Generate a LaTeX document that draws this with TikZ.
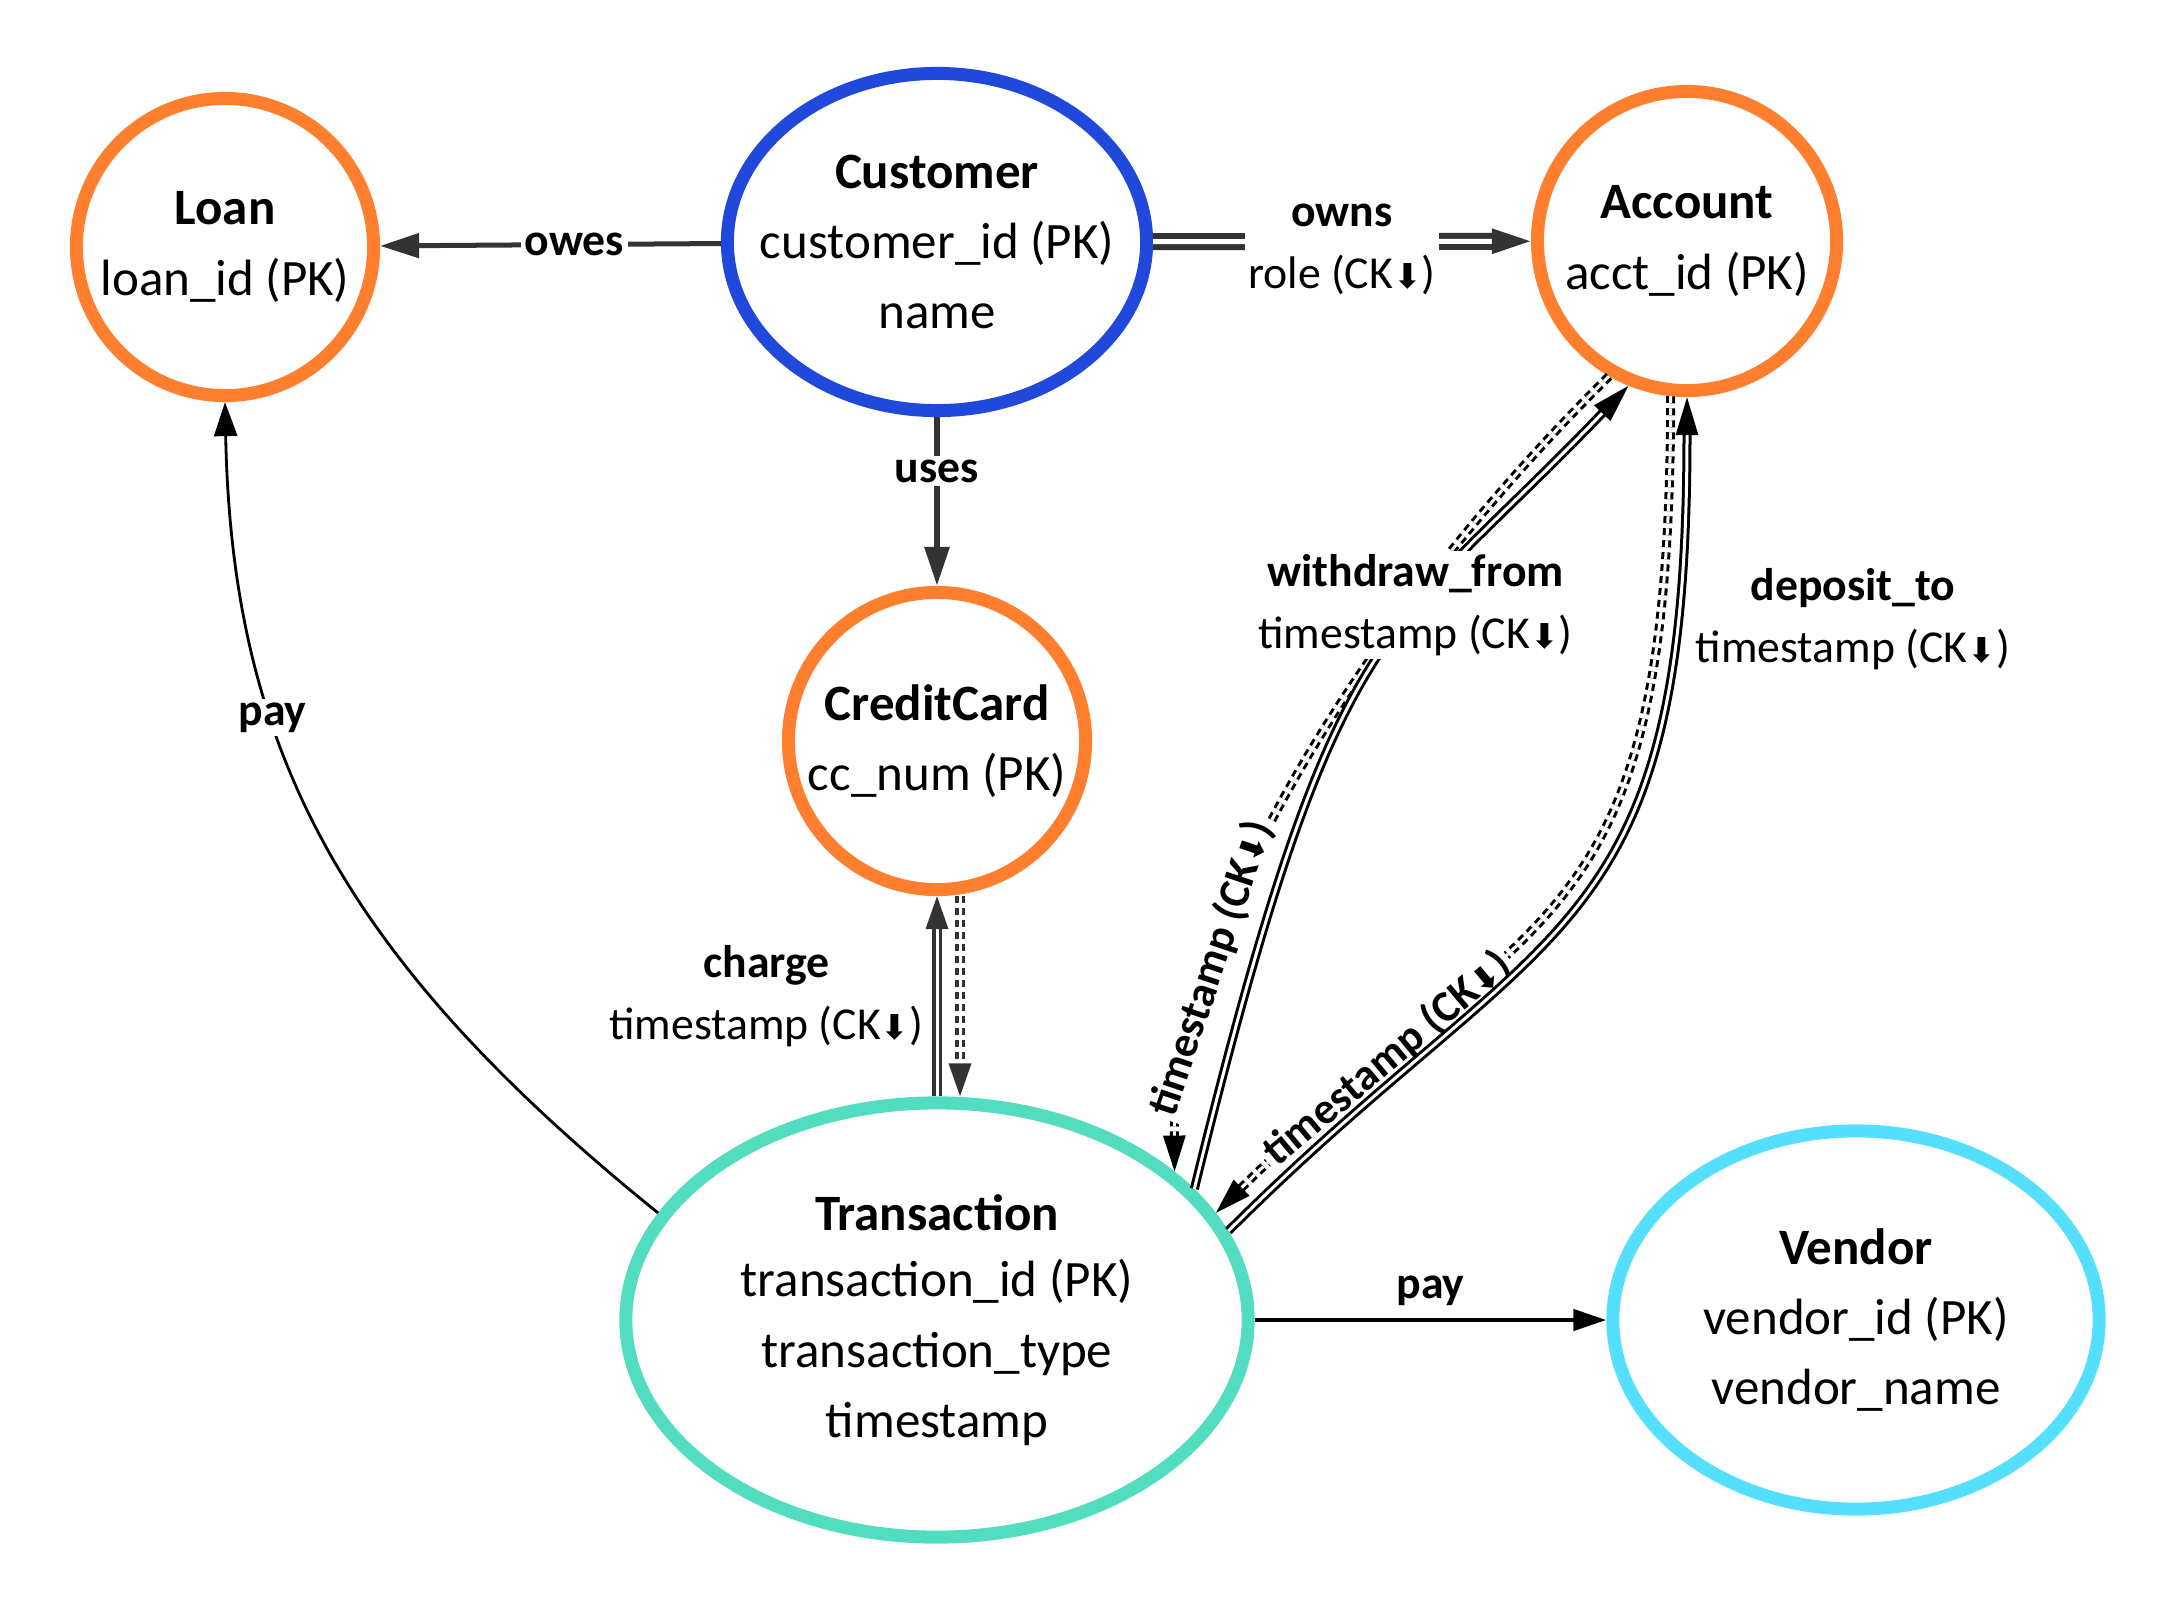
\documentclass[tikz,border=0pt]{standalone}
\usepackage{fontspec}
\setmainfont{Carlito}
\newfontfamily\arrowfont{DejaVu Sans}
\usetikzlibrary{arrows.meta,shapes.geometric}

\definecolor{acctorange}{HTML}{FF7F2F}
\definecolor{custblue}{HTML}{2049DB}
\definecolor{transteal}{HTML}{53DDC0}
\definecolor{vendcyan}{HTML}{55DFFF}
\definecolor{linegray}{HTML}{333333}

\newcommand{\ckd}{CK{\arrowfont\scalebox{0.75}{⬇}}}

\begin{document}
\begin{tikzpicture}[x=0.01cm, y=-0.01cm]

  \tikzstyle{entity} = [ellipse, draw, line width=0.13cm, inner sep=-1cm, align=center, font=\fontsize{14.5}{20}\selectfont]
  \tikzstyle{elabel} = [fill=white, text=black, inner sep=1pt, align=center, font=\fontsize{13}{17.5}\selectfont]
  \tikzstyle{plabel} = [text=black, align=center, font=\fontsize{13}{17.5}\selectfont]
  \tikzstyle{slabel} = [fill=white, text=black, inner sep=1pt, sloped, font=\bfseries\fontsize{12.5}{15}\selectfont]
  \tikzstyle{dashrel} = [dash pattern=on 0.07cm off 0.05cm]

  \useasboundingbox (0,0) rectangle (2175,1614);

  \node[entity, draw=acctorange, minimum width=2.97cm, minimum height=2.97cm] (loan) at (225,247) {\textbf{Loan}\\loan\_id (PK)};
  \node[entity, draw=custblue, minimum width=4.19cm, minimum height=3.37cm] (customer) at (937,242) {\textbf{Customer}\\customer\_id (PK)\\name};
  \node[entity, draw=acctorange, minimum width=2.99cm, minimum height=2.99cm] (account) at (1687,241) {\textbf{Account}\\acct\_id (PK)};
  \node[entity, draw=acctorange, minimum width=2.97cm, minimum height=2.97cm] (cc) at (937,741) {\textbf{CreditCard}\\cc\_num (PK)};
  \node[entity, draw=transteal, minimum width=6.22cm, minimum height=4.34cm] (transaction) at (937,1320) {\textbf{Transaction}\\[-1pt]transaction\_id (PK)\\transaction\_type\\timestamp};
  \node[entity, draw=vendcyan, minimum width=4.86cm, minimum height=3.78cm] (vendor) at (1856,1320) {\textbf{Vendor}\\vendor\_id (PK)\\vendor\_name};

  \draw[linegray, line width=0.05cm, -{Triangle[length=0.39cm,width=0.24cm]}] (customer) -- node[elabel, pos=0.43] {\textbf{owes}} (loan);
  \draw[linegray, line width=0.06cm, double, double distance=0.05cm, -{Triangle[length=0.39cm,width=0.24cm]}] (customer) -- node[elabel, yshift=-0.08cm] {\textbf{owns}\\role (\ckd)} (account);
  \draw[linegray, line width=0.06cm, -{Triangle[length=0.39cm,width=0.24cm]}] (customer) -- node[elabel, pos=0.32] {\textbf{uses}} (cc);

  % charge
  \draw[linegray, line width=0.035cm, double, double distance=0.03cm, dashrel, -{Triangle[length=0.33cm,width=0.22cm]}] ([xshift=0.23cm]cc.south) -- ([xshift=0.23cm]transaction.north);
  \draw[linegray, line width=0.035cm, double, double distance=0.03cm, -{Triangle[length=0.33cm,width=0.22cm]}] (transaction) -- node[plabel, midway, left] {\textbf{charge}\\timestamp (\ckd)} (cc);

  % withdraw_from and deposit_to
  \draw[line width=0.03cm, double, double distance=0.03cm, dashrel, -{Triangle[length=0.36cm,width=0.22cm]}] (account.240) .. controls (1339,644) and (1173,950) .. node[slabel, pos=0.72] {timestamp (\ckd)} (transaction.32);
  \draw[line width=0.03cm, double, double distance=0.03cm, dashrel, -{Triangle[length=0.36cm,width=0.22cm]}] (account.264) .. controls (1670,948) and (1539,895) .. node[slabel, pos=0.8] {timestamp (\ckd)} (transaction.21);
  \draw[line width=0.03cm, double, double distance=0.03cm, -{Triangle[length=0.38cm,width=0.22cm]}] (transaction.27) .. controls (1337,605) and (1385,640) .. node[elabel, pos=0.61] {\textbf{withdraw\_from}\\timestamp (\ckd)} (account.248);
  \draw[line width=0.03cm, double, double distance=0.03cm, -{Triangle[length=0.38cm,width=0.22cm]}] (transaction.17) .. controls (1548,912) and (1687,949) .. node[plabel, pos=0.85, right, yshift=-0.1cm, xshift=0.05cm] {\textbf{deposit\_to}\\timestamp (\ckd)} (account.270);

  % pay
  \draw[line width=0.028cm, -{Triangle[length=0.34cm,width=0.23cm]}] (transaction.159) .. controls (345,960) and (232,753) .. node[elabel, pos=0.66] {\textbf{pay}} (loan.270);
  \draw[line width=0.045cm, -{Triangle[length=0.33cm,width=0.21cm]}] (transaction) -- node[plabel, above] {\textbf{pay}} (vendor);

\end{tikzpicture}
\end{document}
